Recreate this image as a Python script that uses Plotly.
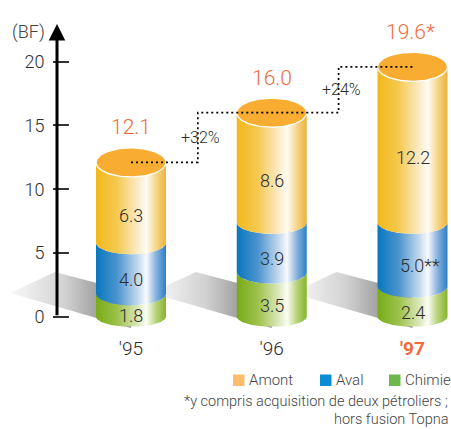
import numpy as np
import plotly.graph_objects as go

# ---- data -------------------------------------------------------------
years = ["'95", "'96", "'97"]
chimie = [1.8, 3.5, 2.4]
aval = [4.0, 3.9, 5.0]
amont = [6.3, 8.6, 12.2]
totals = [12.1, 16.0, 19.6]
total_text = ["12.1", "16.0", "19.6*"]
chimie_text = ["1.8", "3.5", "2.4"]
aval_text = ["4.0", "3.9", "5.0**"]
amont_text = ["6.3", "8.6", "12.2"]
growth_text = ["+32%", "+24%"]
y_ticks = [0, 5, 10, 15, 20]
series_names = ["Amont", "Aval", "Chimie"]
footnote = ["*y compris acquisition de deux pétroliers ;", "hors fusion Topna"]

# ---- geometry / style ------------------------------------------------
W, H = 451, 429
PX_X = 140.75          # pixels per category step
X_ORIGIN = 131.0       # pixel column of the first category
PX_Y = 12.75           # pixels per BF
Y_ORIGIN = 316.7       # pixel row of value 0

def px_x(p):
    return (p - X_ORIGIN) / PX_X

def px_y(p):
    return (Y_ORIGIN - p) / PX_Y

RX = 35 / PX_X                 # cylinder half width
RY_BOT, RY_MID, RY_TOP = 10.0, 11.5, 14.5   # ellipse half heights (px)

FONT = "Roboto, Liberation Sans, Arial, sans-serif"
TXT = "#2d2d2d"
GREY = "#444444"
RED = "#F26A3A"

GRAD = {
    "Chimie": [[0, "#77AB18"], [0.3, "#9CC14A"], [0.6, "#DCE8BC"], [0.72, "#FBFDF4"],
               [0.86, "#B7D27A"], [1, "#86B428"]],
    "Aval": [[0, "#0877BE"], [0.3, "#4A93CE"], [0.6, "#C4D9EE"], [0.72, "#F8FAFD"],
             [0.86, "#86B1DC"], [1, "#2A80C6"]],
    "Amont": [[0, "#F2B81A"], [0.3, "#F5C950"], [0.6, "#FBEBC8"], [0.72, "#FFFCF4"],
              [0.86, "#F6D58A"], [1, "#EDB23A"]],
}
TOP_COLOR = "#F8AD32"
LEGEND_COLORS = {"Amont": "#FBBD6C", "Aval": "#0A8ED3", "Chimie": "#6DB84B"}

fig = go.Figure()

# floor shadows behind each cylinder
for i in range(len(years)):
    c = i
    sx = [c + px_x(X_ORIGIN - 121), c + px_x(X_ORIGIN - 76), c, c, c + px_x(X_ORIGIN - 121)]
    sy = [px_y(293), px_y(272), px_y(292), px_y(328), px_y(293)]
    fig.add_trace(go.Scatter(
        x=sx, y=sy, mode="lines", fill="toself", line=dict(width=0),
        fillgradient=dict(type="horizontal",
                          colorscale=[[0, "rgba(250,250,250,1)"], [0.45, "#D2D2D2"],
                                      [0.75, "#9C9C9C"], [1, "#8A8A8A"]]),
        hoverinfo="skip", showlegend=False))


def body(c, v0, v1, ry0, ry1, n=60):
    t = np.linspace(0, np.pi, n)
    xb = c - RX * np.cos(t)
    yb = v0 - (ry0 / PX_Y) * np.sin(t)
    xt = c + RX * np.cos(t)
    yt = v1 - (ry1 / PX_Y) * np.sin(t)
    return (np.concatenate([xb, xt, xb[:1]]), np.concatenate([yb, yt, yb[:1]]))


annotations = []
for i in range(len(years)):
    c = i
    segs = [
        ("Chimie", 0.0, chimie[i], RY_BOT, RY_MID, chimie_text[i]),
        ("Aval", chimie[i], chimie[i] + aval[i], RY_MID, RY_MID, aval_text[i]),
        ("Amont", chimie[i] + aval[i], chimie[i] + aval[i] + amont[i], RY_MID, RY_TOP, amont_text[i]),
    ]
    for name, v0, v1, r0, r1, label in segs:
        bx, by = body(c, v0, v1, r0, r1)
        fig.add_trace(go.Scatter(
            x=bx, y=by, mode="lines", fill="toself", line=dict(width=0),
            fillgradient=dict(type="horizontal", colorscale=GRAD[name]),
            hoverinfo="skip", showlegend=False))
        ymid = (v0 + v1) / 2 - ((r0 + r1) / 2) / PX_Y
        shift = 7 if label.endswith("**") else 0
        annotations.append(dict(x=c, y=ymid, text=label, showarrow=False, xshift=shift,
                                font=dict(family=FONT, size=18, color=TXT, weight=300)))
    # top cap
    t = np.linspace(0, 2 * np.pi, 120)
    top = chimie[i] + aval[i] + amont[i]
    fig.add_trace(go.Scatter(
        x=c + RX * np.cos(t), y=top + (RY_TOP / PX_Y) * np.sin(t),
        mode="lines", fill="toself", fillcolor=TOP_COLOR,
        line=dict(color="white", width=1.3), hoverinfo="skip", showlegend=False))
    annotations.append(dict(x=c, y=totals[i], text=total_text[i], showarrow=False,
                            yshift=35, xshift=(-2 if total_text[i].endswith("*") else 0),
                            font=dict(family=FONT, size=21, color=RED, weight=300)))

# dotted growth steps between totals
STEP = 0.475
lx, ly = [0], [totals[0]]
for i in range(1, len(totals)):
    xs = i - 1 + STEP
    lx += [xs, xs]
    ly += [totals[i - 1], totals[i]]
lx.append(len(totals) - 1)
ly.append(totals[-1])
fig.add_trace(go.Scatter(x=lx, y=ly, mode="lines",
                         line=dict(color="#000000", width=1.7, dash="2px,3px"),
                         hoverinfo="skip", showlegend=False))
for i, g in enumerate(growth_text):
    annotations.append(dict(x=i + STEP, y=(totals[i] + totals[i + 1]) / 2, text=g,
                            showarrow=False, xshift=3,
                            font=dict(family=FONT, size=16, color=TXT, weight=300)))

# vertical axis arrow
AX_X = px_x(57)
annotations.append(dict(x=AX_X, y=px_y(24), ax=AX_X, ay=0, xref="x", yref="y",
                        axref="x", ayref="y", text="", showarrow=True,
                        arrowhead=2, arrowsize=1.1, arrowwidth=3, arrowcolor="black"))
annotations.append(dict(x=28 / W, y=1 - 32 / H, xref="paper", yref="paper", text="(BF)",
                        showarrow=False, xanchor="center", yanchor="middle",
                        font=dict(family=FONT, size=18, color=GREY, weight=300)))

# legend
legend_x = [233, 320, 389]
shapes = []
for name, lxp in zip(series_names, legend_x):
    shapes.append(dict(type="rect", xref="paper", yref="paper",
                       x0=lxp / W, x1=(lxp + 11.5) / W,
                       y0=1 - 386 / H, y1=1 - 374.5 / H,
                       fillcolor=LEGEND_COLORS[name], line=dict(width=0)))
    annotations.append(dict(x=(lxp + 14) / W, y=1 - 380 / H, xref="paper", yref="paper",
                            text=name, showarrow=False, xanchor="left", yanchor="middle",
                            font=dict(family=FONT, size=15, color=GREY, weight=300)))
for k, line in enumerate(footnote):
    annotations.append(dict(x=450 / W, y=1 - (401 + 18 * k) / H, xref="paper", yref="paper",
                            text=line, showarrow=False, xanchor="right", yanchor="middle",
                            font=dict(family=FONT, size=14.5, color=GREY, weight=300)))

ticktext = [y if k < len(years) - 1 else f"<b><span style='color:{RED}'>{y}</span></b>"
            for k, y in enumerate(years)]

fig.update_layout(
    width=W, height=H, margin=dict(l=0, r=0, t=0, b=0),
    paper_bgcolor="white", plot_bgcolor="white", showlegend=False,
    xaxis=dict(range=[px_x(0), px_x(W)], anchor="free", position=(H - Y_ORIGIN) / H,
               tickmode="array", tickvals=list(range(len(years))), ticktext=ticktext,
               ticks="", showline=False, showgrid=False, zeroline=False,
               ticklabelstandoff=18, tickfont=dict(family=FONT, size=19, color=TXT, weight=300)),
    yaxis=dict(range=[px_y(H), px_y(0)], anchor="free", position=69 / W,
               tickmode="array", tickvals=y_ticks, ticks="outside", ticklen=16,
               tickwidth=2, tickcolor="#333333", showline=False, showgrid=False,
               zeroline=False, ticklabelstandoff=5,
               tickfont=dict(family=FONT, size=18, color=TXT, weight=300)),
    annotations=annotations, shapes=shapes,
)

fig.write_html("out.html", config={"displayModeBar": False})
